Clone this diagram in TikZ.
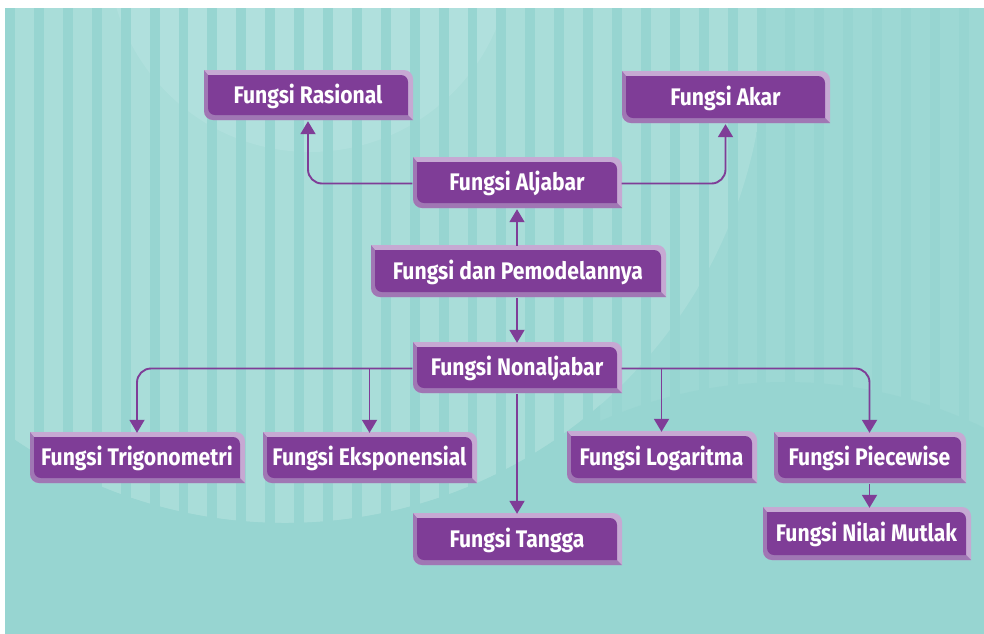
\documentclass[tikz,border=0pt]{standalone}
\usepackage{fontspec}
\usetikzlibrary{arrows.meta}
\newfontfamily\boxfont[FakeStretch=0.88]{Fira Sans}

\definecolor{latar}{HTML}{97D5D1}
\definecolor{garis1}{HTML}{9DD8D4}
\definecolor{garis2}{HTML}{A9DDD9}
\definecolor{garis3}{HTML}{B0E0DD}
\definecolor{ungu}{HTML}{7F3D97}
\definecolor{ungumuda}{HTML}{C6A9D3}
\definecolor{ungusedang}{HTML}{A077B4}

\tikzset{
  boxtext/.style={inner sep=0pt, text=white, font=\boxfont\bfseries\fontsize{24}{26}\selectfont},
  conn/.style={draw=ungu, line width=1.9pt, rounded corners=14pt, -{Triangle[width=15pt,length=13pt]}}
}

% kotak ungu bertepi timbul: nama, x1, y1, x2, y2, teks
\newcommand{\kotak}[6]{%
  \fill[ungumuda] (#2,#3) -- (#4-9,#3) arc[start angle=-90,end angle=0,radius=9]
    -- (#4,#5) -- (#2+9,#5) arc[start angle=90,end angle=180,radius=9] -- cycle;
  \fill[ungusedang] (#2,#3) -- (#2+4,#3+5) -- (#4-5,#5-5) -- (#4,#5)
    -- (#2+9,#5) arc[start angle=90,end angle=180,radius=9] -- cycle;
  \fill[ungu] (#2+4,#3+5) -- (#4-12,#3+5) arc[start angle=-90,end angle=0,radius=7]
    -- (#4-5,#5-5) -- (#2+11,#5-5) arc[start angle=90,end angle=180,radius=7] -- cycle;
  \node[boxtext, minimum width={#4pt-#2pt}, minimum height={#5pt-#3pt}] (#1)
    at ({(#2+#4)/2-0.5},{(#3+#5)/2+1}) {#6};
}

\begin{document}
\begin{tikzpicture}[x=1pt, y=-1pt]
  \useasboundingbox (0,0) rectangle (984,633);

  % latar belakang bergaris
  \begin{scope}
    \clip (5,8) rectangle (984,633);
    \fill[latar] (5,8) rectangle (984,633);
    \foreach \i in {0,...,33} {
      \fill[garis1] (15+\i*28.9,8) rectangle ++(19,625);
    }
    \begin{scope}
      \clip (285,43) circle[radius=480];
      \foreach \i in {0,...,33} {
        \fill[garis2] (15+\i*28.9,8) rectangle ++(19,625);
      }
    \end{scope}
    \begin{scope}
      \clip (310,-50) circle[radius=202];
      \foreach \i in {0,...,33} {
        \fill[garis3] (15+\i*28.9,8) rectangle ++(19,625);
      }
    \end{scope}
    % bagian polos kiri bawah dan kanan bawah
    \begin{scope}
      \clip (5,300) rectangle (600,633);
      \fill[latar, even odd rule] (-300,-500) rectangle (1000,700) (285,43) circle[radius=480];
    \end{scope}
    \fill[latar] (785,837) circle[radius=455];
  \end{scope}

  % kotak-kotak
  \kotak{rasional}{204}{70}{413}{120}{Fungsi Rasional}
  \kotak{akar}{622}{71}{830}{123}{Fungsi Akar}
  \kotak{aljabar}{413}{157}{622}{208}{Fungsi Aljabar}
  \kotak{pemodelan}{371}{245}{666}{297}{Fungsi dan Pemodelannya}
  \kotak{nonaljabar}{413}{342}{622}{393}{Fungsi Nonaljabar}
  \kotak{trigono}{30}{432}{245}{483}{Fungsi Trigonometri}
  \kotak{eksponen}{263}{432}{477}{483}{Fungsi Eksponensial}
  \kotak{tangga}{413}{513}{622}{565}{Fungsi Tangga}
  \kotak{logaritma}{567}{431}{757}{483}{Fungsi Logaritma}
  \kotak{piecewise}{774}{432}{966}{483}{Fungsi Piecewise}
  \kotak{mutlak}{763}{507}{971}{560}{Fungsi Nilai Mutlak}

  % panah
  \draw[conn] (aljabar.west) -| (rasional.south);
  \draw[conn] (aljabar.east) -| (akar.south);
  \draw[conn] (aljabar.south |- pemodelan.north) -- (aljabar.south);
  \draw[conn] (nonaljabar.north |- pemodelan.south) -- (nonaljabar.north);
  \draw[conn] (nonaljabar.west) -| (trigono.north);
  \draw[conn] (nonaljabar.west -| eksponen.north) -- (eksponen.north);
  \draw[conn] (nonaljabar.east) -| (piecewise.north);
  \draw[conn] (nonaljabar.east -| logaritma.north) -- (logaritma.north);
  \draw[conn] (nonaljabar.south) -- (tangga.north);
  \draw[conn] (piecewise.south) -- (piecewise.south |- mutlak.north);
\end{tikzpicture}
\end{document}
